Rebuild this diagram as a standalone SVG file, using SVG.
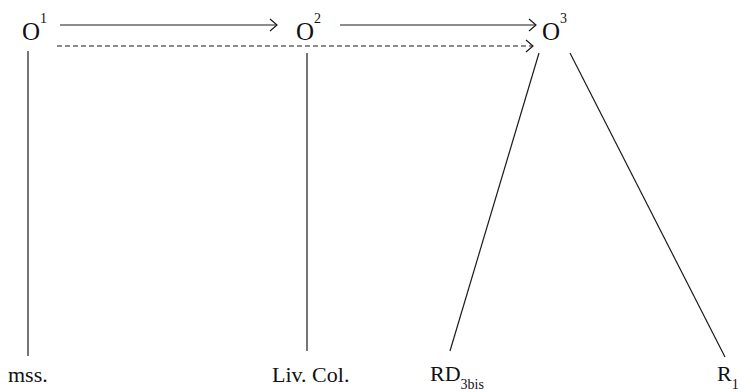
<svg xmlns="http://www.w3.org/2000/svg" width="741" height="392" viewBox="0 0 741 392">
<defs>
<marker id="arr" markerWidth="10" markerHeight="14" refX="8" refY="7" orient="auto" markerUnits="userSpaceOnUse">
<path d="M1,1 L8,7 L1,13" fill="none" stroke="#1a1a1a" stroke-width="1.2"/>
</marker>
</defs>
<style>
text{fill:#111}
.o{font-size:25px}
.l{font-size:22px}
.s{font-size:14px}
.ln{stroke:#1a1a1a;fill:none;stroke-width:1.2}
</style>
<rect width="741" height="392" fill="#fff"/>
<g id="O1"><text class="o" font-family="Times New Roman, Liberation Serif, DejaVu Serif, serif" x="22" y="40">O<tspan class="s" dy="-17">1</tspan></text></g>
<g id="O2"><text class="o" font-family="Times New Roman, Liberation Serif, DejaVu Serif, serif" x="296" y="40">O<tspan class="s" dy="-17">2</tspan></text></g>
<g id="O3"><text class="o" font-family="Times New Roman, Liberation Serif, DejaVu Serif, serif" x="542" y="40">O<tspan class="s" dy="-17">3</tspan></text></g>
<g id="mss"><text class="l" font-family="Times New Roman, Liberation Serif, DejaVu Serif, serif" x="8" y="382">mss.</text></g>
<g id="livcol"><text class="l" font-family="Times New Roman, Liberation Serif, DejaVu Serif, serif" x="272" y="382">Liv. Col.</text></g>
<g id="RD3bis"><text class="l" font-family="Times New Roman, Liberation Serif, DejaVu Serif, serif" x="430" y="381">RD<tspan class="s" dy="8">3bis</tspan></text></g>
<g id="R1"><text class="l" font-family="Times New Roman, Liberation Serif, DejaVu Serif, serif" x="717" y="381">R<tspan class="s" dy="8">1</tspan></text></g>
<g id="connectors">
<line class="ln" x1="60" y1="25" x2="277" y2="25" marker-end="url(#arr)"/>
<line class="ln" x1="340" y1="25" x2="536" y2="25" marker-end="url(#arr)"/>
<line class="ln" x1="57" y1="46" x2="533" y2="46" stroke-dasharray="5,3" marker-end="url(#arr)"/>
<line class="ln" x1="28" y1="51" x2="28" y2="356" stroke-width="2.2"/>
<line class="ln" x1="307" y1="53" x2="307" y2="351"/>
<line class="ln" x1="539" y1="53" x2="450" y2="351"/>
<line class="ln" x1="570" y1="53" x2="725" y2="357"/>
</g>
</svg>
